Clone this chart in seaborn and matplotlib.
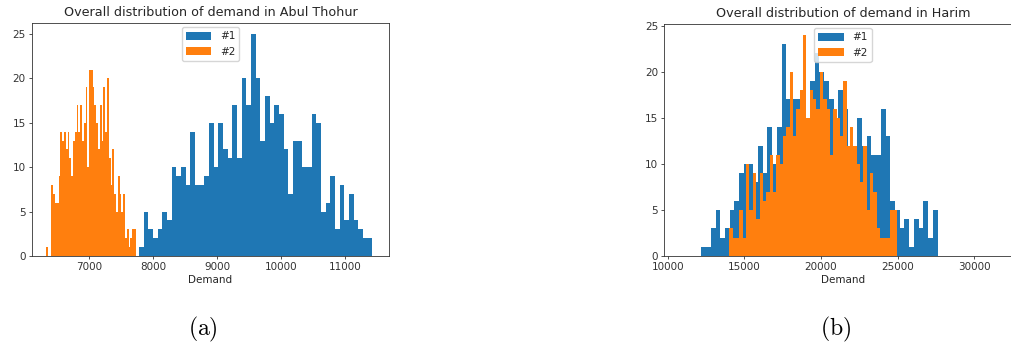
import numpy as np
import pandas as pd
import matplotlib
matplotlib.use("Agg")
import matplotlib.pyplot as plt
import seaborn as sns
from matplotlib.patches import Patch

# ---------------- data ----------------
series_labels = ["#1", "#2"]
series_colors = ["#1f77b4", "#ff7f0e"]
x_label = "Demand"
captions = ["(a)", "(b)"]

abul_title = "Overall distribution of demand in Abul Thohur"
abul_range_1 = [7780, 11424]
abul_counts_1 = [1, 5, 3, 2, 3, 5, 4, 10, 9, 10,
                 8, 14, 8, 8, 9, 15, 10, 15, 12, 11,
                 17, 11, 20, 17, 25, 20, 13, 18, 15, 17,
                 16, 12, 7, 13, 13, 10, 10, 16, 15, 5,
                 6, 9, 3, 8, 4, 7, 4, 3, 2, 2]
abul_range_2 = [6330, 7728]
abul_counts_2 = [1, 0, 0, 8, 7, 6, 6, 9, 14, 13,
                 14, 12, 14, 11, 9, 13, 14, 17, 14, 17,
                 13, 15, 19, 10, 21, 21, 19, 17, 15, 12,
                 17, 13, 19, 14, 20, 11, 8, 12, 7, 5,
                 9, 7, 5, 7, 2, 3, 1, 2, 3, 3]
abul_xticks = [7000, 8000, 9000, 10000, 11000]

harim_title = "Overall distribution of demand in Harim"
harim_range_1 = [12198, 27611]
harim_counts_1 = [1, 1, 3, 5, 2, 3, 5, 6, 9, 10,
                  10, 8, 12, 9, 14, 10, 14, 23, 17, 17,
                  17, 16, 15, 19, 22, 20, 19, 17, 15, 18,
                  16, 11, 10, 15, 12, 13, 11, 11, 16, 13,
                  6, 5, 3, 4, 1, 4, 3, 6, 2, 5]
harim_range_2 = [14026, 24956]
harim_counts_2 = [3, 2, 2, 5, 2, 10, 5, 9, 4, 9,
                  6, 7, 11, 7, 11, 10, 13, 14, 20, 13,
                  16, 18, 24, 15, 18, 17, 16, 20, 17, 16,
                  11, 16, 15, 13, 19, 12, 14, 12, 10, 8,
                  12, 5, 9, 7, 3, 2, 2, 2, 5, 5]
harim_xticks = [10000, 15000, 20000, 25000, 30000]

# ---------------- style ----------------
sns.set_style("ticks")
plt.rcParams.update({
    "font.family": ["DejaVu Sans"],
    "mathtext.fontset": "cm",
    "axes.edgecolor": "#333333",
    "axes.linewidth": 0.6,
    "xtick.major.size": 2.5,
    "ytick.major.size": 2.5,
    "xtick.major.width": 0.6,
    "ytick.major.width": 0.6,
    "xtick.labelsize": 7.5,
    "ytick.labelsize": 7.5,
    "xtick.color": "#333333",
    "ytick.color": "#333333",
    "axes.labelsize": 7.5,
    "axes.titlesize": 9.2,
    "text.color": "#262626",
    "axes.labelcolor": "#262626",
})

fig = plt.figure(figsize=(10.12, 3.5), dpi=100)
ax_a = fig.add_axes([32 / 1012, 94 / 350, 357 / 1012, 233 / 350])
ax_b = fig.add_axes([664.3 / 1012, 94 / 350, 357 / 1012, 232 / 350])


def draw(ax, title, ranges, counts_list, xticks, xlim):
    for rng, counts, color in zip(ranges, counts_list, series_colors):
        n = len(counts)
        step = (rng[1] - rng[0]) / n
        centers = [rng[0] + step * (i + 0.5) for i in range(n)]
        df = pd.DataFrame({"demand": centers, "count": counts})
        sns.histplot(data=df, x="demand", weights="count", bins=n,
                     binrange=(rng[0], rng[1]),
                     color=color, alpha=1, linewidth=0, ax=ax)
    ax.set_title(title, pad=5)
    ax.set_xlabel(x_label, labelpad=2)
    ax.set_ylabel("")
    ax.set_xticks(xticks)
    ax.set_yticks([0, 5, 10, 15, 20, 25])
    ax.set_xlim(*xlim)
    ax.tick_params(pad=2)
    handles = [Patch(facecolor=c, edgecolor="none") for c in series_colors]
    ax.legend(handles, series_labels, loc="upper center", fontsize=7.6,
              handlelength=2.4, handleheight=0.8, borderpad=0.4,
              labelspacing=0.5, handletextpad=0.8, borderaxespad=0.4)


draw(ax_a, abul_title, [abul_range_1, abul_range_2],
     [abul_counts_1, abul_counts_2], abul_xticks, (6110, 11682))
draw(ax_b, harim_title, [harim_range_1, harim_range_2],
     [harim_counts_1, harim_counts_2], harim_xticks, (9778, 33080))

fig.text(203 / 1012, 1 - 329 / 350, r"$\mathrm{" + captions[0] + "}$",
         ha="center", va="center", fontsize=17, color="black")
fig.text(836 / 1012, 1 - 329 / 350, r"$\mathrm{" + captions[1] + "}$",
         ha="center", va="center", fontsize=17, color="black")

fig.savefig("out.png", dpi=100)
